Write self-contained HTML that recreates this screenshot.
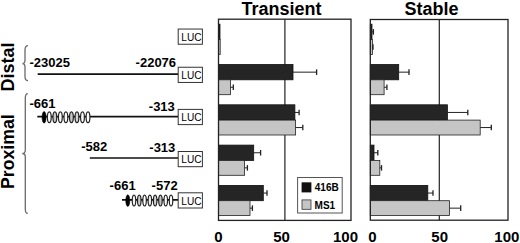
<!DOCTYPE html>
<html><head><meta charset="utf-8"><style>
html,body{margin:0;padding:0;background:#fff;}
body{width:520px;height:243px;overflow:hidden;}
svg{display:block;font-family:"Liberation Sans", sans-serif;}
</style></head><body>
<svg width="520" height="243" viewBox="0 0 520 243" font-family='"Liberation Sans", sans-serif'>
<rect width="520" height="243" fill="#fff"/>
<text x="241.5" y="14.6" font-size="18" font-weight="bold">Transient</text>
<text x="404.6" y="14.6" font-size="18" font-weight="bold">Stable</text>
<text transform="translate(14.3,91.4) rotate(-90)" font-size="18" font-weight="bold">Distal</text>
<text transform="translate(14.0,189.0) rotate(-90)" font-size="17.7" font-weight="bold">Proximal</text>
<path d="M28,45.6 C25.6,45.6 25,46.8 25,50.1 L25,60.1 C25,62.4 24.2,63.6 22.5,63.6 C24.2,63.6 25,64.8 25,67.1 L25,76.2 C25,79.5 25.6,80.7 28,80.7" fill="none" stroke="#6a6a6a" stroke-width="1.3"/>
<path d="M27.8,93.6 C25.9,93.6 25.3,94.8 25.3,98.1 L25.3,150 C25.3,152.3 24.5,153.5 22.3,153.5 C24.5,153.5 25.3,154.7 25.3,157 L25.3,208.9 C25.3,212.2 25.9,213.4 27.8,213.4" fill="none" stroke="#6a6a6a" stroke-width="1.3"/>
<rect x="178.2" y="29.05" width="24.2" height="15.20" fill="#fff" stroke="#333" stroke-width="1"/>
<text x="181.3" y="40.90" font-size="10.1">LUC</text>
<line x1="37.7" y1="74.05" x2="178.2" y2="74.05" stroke="#111" stroke-width="1.7"/>
<text x="29.5" y="66.5" font-size="13" font-weight="bold">-23025</text>
<text x="135.6" y="66.5" font-size="13" font-weight="bold">-22076</text>
<rect x="178.2" y="67.25" width="24.2" height="15.20" fill="#fff" stroke="#333" stroke-width="1"/>
<text x="181.3" y="79.10" font-size="10.1">LUC</text>
<line x1="37.3" y1="116.7" x2="178.2" y2="116.7" stroke="#111" stroke-width="1.7"/>
<text x="29.4" y="108.0" font-size="13" font-weight="bold">-661</text>
<text x="148.8" y="110.9" font-size="13" font-weight="bold">-313</text>
<ellipse cx="44.1" cy="117.3" rx="2.0" ry="5.8" fill="#000" stroke="#000" stroke-width="0.6"/>
<ellipse cx="49.30" cy="117.3" rx="1.9" ry="5.4" fill="#fff" stroke="#222" stroke-width="1.2"/>
<ellipse cx="54.83" cy="117.3" rx="1.9" ry="5.4" fill="#c8c8c8" stroke="#222" stroke-width="1.2"/>
<ellipse cx="60.36" cy="117.3" rx="1.9" ry="5.4" fill="#fff" stroke="#222" stroke-width="1.2"/>
<ellipse cx="65.89" cy="117.3" rx="1.9" ry="5.4" fill="#fff" stroke="#222" stroke-width="1.2"/>
<ellipse cx="71.42" cy="117.3" rx="1.9" ry="5.4" fill="#c8c8c8" stroke="#222" stroke-width="1.2"/>
<ellipse cx="76.95" cy="117.3" rx="1.9" ry="5.4" fill="#d4d4d4" stroke="#222" stroke-width="1.2"/>
<ellipse cx="82.48" cy="117.3" rx="1.9" ry="5.4" fill="#fff" stroke="#222" stroke-width="1.2"/>
<ellipse cx="88.01" cy="117.3" rx="1.9" ry="5.4" fill="#fff" stroke="#222" stroke-width="1.2"/>
<rect x="178.2" y="109.40" width="24.2" height="15.20" fill="#fff" stroke="#333" stroke-width="1"/>
<text x="181.3" y="121.25" font-size="10.1">LUC</text>
<line x1="89.8" y1="158.0" x2="178.2" y2="158.0" stroke="#111" stroke-width="1.7"/>
<text x="81.2" y="151.3" font-size="13" font-weight="bold">-582</text>
<text x="149.3" y="151.8" font-size="13" font-weight="bold">-313</text>
<rect x="178.2" y="151.50" width="24.2" height="15.20" fill="#fff" stroke="#333" stroke-width="1"/>
<text x="181.3" y="163.35" font-size="10.1">LUC</text>
<line x1="122.0" y1="199.8" x2="178.2" y2="199.8" stroke="#111" stroke-width="1.7"/>
<text x="109.6" y="190.2" font-size="13" font-weight="bold">-661</text>
<text x="151.6" y="190.2" font-size="13" font-weight="bold">-572</text>
<ellipse cx="127.8" cy="200.6" rx="2.0" ry="5.8" fill="#000" stroke="#000" stroke-width="0.6"/>
<ellipse cx="134.00" cy="200.6" rx="1.75" ry="5.4" fill="#f4f4f4" stroke="#222" stroke-width="1.2"/>
<ellipse cx="139.29" cy="200.6" rx="1.75" ry="5.4" fill="#d0d0d0" stroke="#222" stroke-width="1.2"/>
<ellipse cx="144.58" cy="200.6" rx="1.75" ry="5.4" fill="#fff" stroke="#222" stroke-width="1.2"/>
<ellipse cx="149.87" cy="200.6" rx="1.75" ry="5.4" fill="#eee" stroke="#222" stroke-width="1.2"/>
<ellipse cx="155.16" cy="200.6" rx="1.75" ry="5.4" fill="#d0d0d0" stroke="#222" stroke-width="1.2"/>
<ellipse cx="160.45" cy="200.6" rx="1.75" ry="5.4" fill="#c4c4c4" stroke="#222" stroke-width="1.2"/>
<ellipse cx="165.74" cy="200.6" rx="1.75" ry="5.4" fill="#fff" stroke="#222" stroke-width="1.2"/>
<ellipse cx="171.03" cy="200.6" rx="1.75" ry="5.4" fill="#fff" stroke="#222" stroke-width="1.2"/>
<rect x="178.2" y="192.80" width="24.2" height="15.20" fill="#fff" stroke="#333" stroke-width="1"/>
<text x="181.3" y="204.65" font-size="10.1">LUC</text>
<line x1="284.9" y1="19.2" x2="284.9" y2="220.4" stroke="#222" stroke-width="1.2"/>
<rect x="218.5" y="24.20" width="1.50" height="15.30" fill="#252525" stroke="#111" stroke-width="0.8"/>
<rect x="218.5" y="39.50" width="1.70" height="14.90" fill="#c5c5c5" stroke="#222" stroke-width="0.8"/>
<rect x="218.5" y="64.50" width="74.50" height="15.30" fill="#252525" stroke="#111" stroke-width="0.8"/>
<rect x="218.5" y="79.80" width="11.90" height="14.90" fill="#c5c5c5" stroke="#222" stroke-width="0.8"/>
<line x1="293.00" y1="72.15" x2="316.60" y2="72.15" stroke="#222" stroke-width="1"/>
<line x1="316.60" y1="69.35" x2="316.60" y2="74.95" stroke="#222" stroke-width="1.3"/>
<line x1="230.40" y1="87.25" x2="233.30" y2="87.25" stroke="#222" stroke-width="1"/>
<line x1="233.30" y1="84.45" x2="233.30" y2="90.05" stroke="#222" stroke-width="1.3"/>
<rect x="218.5" y="104.80" width="76.40" height="15.30" fill="#252525" stroke="#111" stroke-width="0.8"/>
<rect x="218.5" y="120.10" width="77.10" height="14.90" fill="#c5c5c5" stroke="#222" stroke-width="0.8"/>
<line x1="294.90" y1="112.45" x2="299.10" y2="112.45" stroke="#222" stroke-width="1"/>
<line x1="299.10" y1="109.65" x2="299.10" y2="115.25" stroke="#222" stroke-width="1.3"/>
<line x1="295.60" y1="127.55" x2="302.80" y2="127.55" stroke="#222" stroke-width="1"/>
<line x1="302.80" y1="124.75" x2="302.80" y2="130.35" stroke="#222" stroke-width="1.3"/>
<rect x="218.5" y="145.10" width="35.20" height="15.30" fill="#252525" stroke="#111" stroke-width="0.8"/>
<rect x="218.5" y="160.40" width="26.10" height="14.90" fill="#c5c5c5" stroke="#222" stroke-width="0.8"/>
<line x1="253.70" y1="152.75" x2="260.60" y2="152.75" stroke="#222" stroke-width="1"/>
<line x1="260.60" y1="149.95" x2="260.60" y2="155.55" stroke="#222" stroke-width="1.3"/>
<line x1="244.60" y1="167.85" x2="247.40" y2="167.85" stroke="#222" stroke-width="1"/>
<line x1="247.40" y1="165.05" x2="247.40" y2="170.65" stroke="#222" stroke-width="1.3"/>
<rect x="218.5" y="185.40" width="44.80" height="15.30" fill="#252525" stroke="#111" stroke-width="0.8"/>
<rect x="218.5" y="200.70" width="31.50" height="14.90" fill="#c5c5c5" stroke="#222" stroke-width="0.8"/>
<line x1="263.30" y1="193.05" x2="267.00" y2="193.05" stroke="#222" stroke-width="1"/>
<line x1="267.00" y1="190.25" x2="267.00" y2="195.85" stroke="#222" stroke-width="1.3"/>
<line x1="250.00" y1="208.15" x2="252.40" y2="208.15" stroke="#222" stroke-width="1"/>
<line x1="252.40" y1="205.35" x2="252.40" y2="210.95" stroke="#222" stroke-width="1.3"/>
<rect x="218.5" y="19.2" width="132.5" height="201.20000000000002" fill="none" stroke="#222" stroke-width="1.3"/>
<line x1="439.3" y1="19.5" x2="439.3" y2="220.2" stroke="#222" stroke-width="1.2"/>
<rect x="370.3" y="24.20" width="1.70" height="15.30" fill="#252525" stroke="#111" stroke-width="0.8"/>
<rect x="370.3" y="39.50" width="2.10" height="14.90" fill="#c5c5c5" stroke="#222" stroke-width="0.8"/>
<line x1="372.00" y1="31.85" x2="373.40" y2="31.85" stroke="#222" stroke-width="1"/>
<line x1="373.40" y1="29.05" x2="373.40" y2="34.65" stroke="#222" stroke-width="1.3"/>
<line x1="372.40" y1="46.95" x2="373.00" y2="46.95" stroke="#222" stroke-width="1"/>
<line x1="373.00" y1="44.15" x2="373.00" y2="49.75" stroke="#222" stroke-width="1.3"/>
<rect x="370.3" y="64.50" width="28.40" height="15.30" fill="#252525" stroke="#111" stroke-width="0.8"/>
<rect x="370.3" y="79.80" width="13.80" height="14.90" fill="#c5c5c5" stroke="#222" stroke-width="0.8"/>
<line x1="398.70" y1="72.15" x2="409.00" y2="72.15" stroke="#222" stroke-width="1"/>
<line x1="409.00" y1="69.35" x2="409.00" y2="74.95" stroke="#222" stroke-width="1.3"/>
<line x1="384.10" y1="87.25" x2="386.90" y2="87.25" stroke="#222" stroke-width="1"/>
<line x1="386.90" y1="84.45" x2="386.90" y2="90.05" stroke="#222" stroke-width="1.3"/>
<rect x="370.3" y="104.80" width="77.10" height="15.30" fill="#252525" stroke="#111" stroke-width="0.8"/>
<rect x="370.3" y="120.10" width="109.90" height="14.90" fill="#c5c5c5" stroke="#222" stroke-width="0.8"/>
<line x1="447.40" y1="112.45" x2="467.80" y2="112.45" stroke="#222" stroke-width="1"/>
<line x1="467.80" y1="109.65" x2="467.80" y2="115.25" stroke="#222" stroke-width="1.3"/>
<line x1="480.20" y1="127.55" x2="491.30" y2="127.55" stroke="#222" stroke-width="1"/>
<line x1="491.30" y1="124.75" x2="491.30" y2="130.35" stroke="#222" stroke-width="1.3"/>
<rect x="370.3" y="145.10" width="3.70" height="15.30" fill="#252525" stroke="#111" stroke-width="0.8"/>
<rect x="370.3" y="160.40" width="9.50" height="14.90" fill="#c5c5c5" stroke="#222" stroke-width="0.8"/>
<line x1="374.00" y1="152.75" x2="377.80" y2="152.75" stroke="#222" stroke-width="1"/>
<line x1="377.80" y1="149.95" x2="377.80" y2="155.55" stroke="#222" stroke-width="1.3"/>
<line x1="379.80" y1="167.85" x2="381.50" y2="167.85" stroke="#222" stroke-width="1"/>
<line x1="381.50" y1="165.05" x2="381.50" y2="170.65" stroke="#222" stroke-width="1.3"/>
<rect x="370.3" y="185.40" width="57.50" height="15.30" fill="#252525" stroke="#111" stroke-width="0.8"/>
<rect x="370.3" y="200.70" width="79.30" height="14.90" fill="#c5c5c5" stroke="#222" stroke-width="0.8"/>
<line x1="427.80" y1="193.05" x2="433.00" y2="193.05" stroke="#222" stroke-width="1"/>
<line x1="433.00" y1="190.25" x2="433.00" y2="195.85" stroke="#222" stroke-width="1.3"/>
<line x1="449.60" y1="208.15" x2="460.70" y2="208.15" stroke="#222" stroke-width="1"/>
<line x1="460.70" y1="205.35" x2="460.70" y2="210.95" stroke="#222" stroke-width="1.3"/>
<rect x="370.3" y="19.5" width="137.7" height="200.7" fill="none" stroke="#222" stroke-width="1.3"/>
<rect x="297.6" y="177.5" width="44.6" height="35.5" fill="#fff" stroke="#555" stroke-width="1"/>
<rect x="302.0" y="182.8" width="9" height="9.2" fill="#111" stroke="#111" stroke-width="0.8"/>
<rect x="302.0" y="199.9" width="9" height="9.4" fill="#c5c5c5" stroke="#333" stroke-width="0.8"/>
<text x="314.8" y="191.0" font-size="10" font-weight="bold">416B</text>
<text x="314.6" y="209.1" font-size="10" font-weight="bold">MS1</text>
<text x="214.2" y="241.6" font-size="15" font-weight="bold">0</text>
<text x="273.2" y="241.6" font-size="15" font-weight="bold">50</text>
<text x="333.0" y="241.6" font-size="15" font-weight="bold">100</text>
<text x="368.2" y="241.6" font-size="15" font-weight="bold">0</text>
<text x="431.3" y="241.6" font-size="15" font-weight="bold">50</text>
<text x="494.3" y="241.6" font-size="15" font-weight="bold">100</text>
</svg>
</body></html>
